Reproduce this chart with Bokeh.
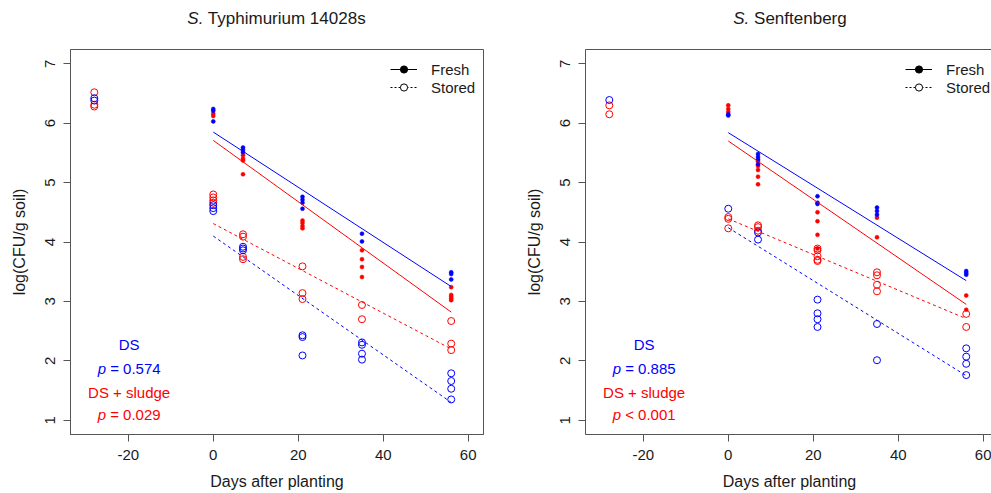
import math
from bokeh.plotting import figure
from bokeh.models import Range1d, FixedTicker, LinearAxis, Legend, LegendItem, Div
from bokeh.layouts import row, column
from bokeh.core.properties import value
from bokeh.embed import file_html
from bokeh.resources import INLINE

# ---------------- data ----------------
x_ticks = [-20, 0, 20, 40, 60]
x_tick_labels = ["-20", "0", "20", "40", "60"]
y_ticks = [1, 2, 3, 4, 5, 6, 7]
y_tick_labels = ["1", "2", "3", "4", "5", "6", "7"]

panel_titles = [("S.", "Typhimurium 14028s"), ("S.", "Senftenberg")]
legend_labels = ["Fresh", "Stored"]
group_names = ["DS", "DS + sludge"]
ty_pvalues = [("p", "= 0.574"), ("p", "= 0.029")]
sen_pvalues = [("p", "= 0.885"), ("p", "< 0.001")]

fit_days = [0, 56]

# S. Typhimurium 14028s
ty_ds_fresh_day = [0, 0, 0, 7, 7, 7, 21, 21, 21, 21, 35, 35, 56, 56, 56]
ty_ds_fresh_val = [6.24, 6.21, 6.03, 5.59, 5.55, 5.51, 4.76, 4.71, 4.66, 4.56, 4.14, 4.01, 3.49, 3.46, 3.37]
ty_sl_fresh_day = [0, 0, 7, 7, 7, 7, 21, 21, 21, 21, 35, 35, 35, 35, 56, 56, 56, 56, 56]
ty_sl_fresh_val = [6.16, 6.12, 5.46, 5.40, 5.37, 5.14, 4.36, 4.32, 4.27, 4.23, 3.86, 3.71, 3.58, 3.41, 3.24, 3.11, 3.08, 3.05, 3.02]
ty_ds_stored_day = [-28, -28, 0, 0, 0, 7, 7, 7, 21, 21, 21, 35, 35, 35, 35, 56, 56, 56, 56]
ty_ds_stored_val = [6.42, 6.38, 4.62, 4.57, 4.52, 3.92, 3.89, 3.86, 2.43, 2.40, 2.09, 2.31, 2.27, 2.12, 2.02, 1.79, 1.66, 1.53, 1.35]
ty_sl_stored_day = [-28, -28, -28, 0, 0, 0, 0, 7, 7, 7, 7, 21, 21, 21, 35, 35, 56, 56, 56]
ty_sl_stored_val = [6.52, 6.31, 6.28, 4.80, 4.75, 4.70, 4.66, 4.13, 4.09, 3.75, 3.71, 3.59, 3.14, 3.04, 2.94, 2.70, 2.67, 2.29, 2.18]
ty_ds_fresh_fit = [5.85, 3.25]
ty_sl_fresh_fit = [5.71, 2.82]
ty_ds_stored_fit = [4.10, 1.30]
ty_sl_stored_fit = [4.31, 2.20]

# S. Senftenberg
sen_ds_fresh_day = [0, 0, 7, 7, 7, 7, 21, 21, 21, 35, 35, 35, 56, 56, 56]
sen_ds_fresh_val = [6.15, 6.13, 5.48, 5.43, 5.39, 5.31, 4.77, 4.66, 4.64, 4.58, 4.52, 4.46, 3.51, 3.48, 3.45]
sen_sl_fresh_day = [0, 0, 0, 7, 7, 7, 7, 7, 21, 21, 21, 21, 35, 35, 56, 56]
sen_sl_fresh_val = [6.30, 6.24, 6.19, 5.36, 5.28, 5.21, 5.10, 4.97, 4.50, 4.35, 4.12, 3.89, 4.41, 4.08, 3.10, 2.86]
sen_ds_stored_day = [-28, 0, 7, 7, 21, 21, 21, 21, 35, 35, 56, 56, 56, 56]
sen_ds_stored_val = [6.39, 4.56, 4.16, 4.04, 3.03, 2.80, 2.70, 2.57, 2.62, 2.01, 2.21, 2.07, 1.95, 1.76]
sen_sl_stored_day = [-28, -28, 0, 0, 0, 7, 7, 7, 21, 21, 21, 21, 21, 35, 35, 35, 35, 56, 56]
sen_sl_stored_val = [6.30, 6.15, 4.42, 4.39, 4.23, 4.28, 4.25, 4.19, 3.89, 3.86, 3.76, 3.70, 3.68, 3.49, 3.44, 3.28, 3.17, 2.79, 2.57]
sen_ds_fresh_fit = [5.84, 3.35]
sen_sl_fresh_fit = [5.70, 2.95]
sen_ds_stored_fit = [4.24, 1.75]
sen_sl_stored_fit = [4.39, 2.71]

# ---------------- styling ----------------
FONT = "Liberation Sans"
BLUE = "#0000FF"
RED = "#FF0000"
AX = "#555555"
TXT = "#1a1a1a"
DASH = "3 3"
NAN = float("nan")

X0, Y0, Y1 = -33.6, 0.76, 7.24
TITLE_H = 29
FRAME_H = 385
LABEL_SHIFT = 0.07   # lifts the rotated y tick labels so they sit centred on their ticks


def base_axis_style(ax):
    ax.axis_line_color = AX
    ax.major_tick_line_color = AX
    ax.minor_tick_line_color = None
    ax.major_tick_in = 0
    ax.major_tick_out = 7
    ax.major_label_text_font = FONT
    ax.major_label_text_font_size = "15px"
    ax.major_label_text_color = TXT
    ax.axis_label_text_font = FONT
    ax.axis_label_text_font_size = "16px"
    ax.axis_label_text_font_style = "normal"
    ax.axis_label_text_color = TXT


def make_title(title, width, frame_left, frame_w):
    html = ('<div style="width:%dpx;margin-left:%dpx;text-align:center;'
            'font-family:\'Liberation Sans\';font-size:17px;line-height:20px;'
            'padding-top:9px;color:%s;white-space:nowrap">'
            '<i>%s</i> %s</div>') % (frame_w, frame_left, TXT, title[0], title[1])
    return Div(text=html, width=width, height=TITLE_H, margin=(0, 0, 0, 0))


def make_panel(series, pvals, frame_w, b_left, b_right, x_end, outline):
    p = figure(frame_width=frame_w, frame_height=FRAME_H,
               x_range=Range1d(X0, x_end), y_range=Range1d(Y0, Y1),
               output_backend="svg", toolbar_location=None,
               min_border_left=b_left, min_border_right=b_right,
               min_border_top=20, min_border_bottom=40,
               x_axis_label="Days after planting",
               margin=(0, 0, 0, 0))
    p.grid.visible = False
    p.background_fill_color = "white"
    p.border_fill_color = "white"

    # x axis
    xa = p.below[0]
    base_axis_style(xa)
    xa.ticker = FixedTicker(ticks=x_ticks)
    xa.major_label_overrides = dict(zip(x_ticks, x_tick_labels))
    xa.major_label_standoff = 8
    xa.axis_label_standoff = 10

    # y axis: tick marks on the inner axis (no labels drawn),
    # rotated labels + title on the outer axis
    ya = p.left[0]
    base_axis_style(ya)
    ya.ticker = FixedTicker(ticks=y_ticks)
    ya.major_label_text_font_size = "0px"
    ya.major_label_text_color = None
    ya.major_label_standoff = 0
    label_pos = [round(t + LABEL_SHIFT, 3) for t in y_ticks]
    yb = LinearAxis(ticker=FixedTicker(ticks=label_pos),
                    major_label_overrides=dict(zip(label_pos, y_tick_labels)),
                    axis_label="log(CFU/g soil)")
    base_axis_style(yb)
    yb.axis_line_color = None
    yb.major_tick_line_color = None
    yb.major_tick_out = 0
    yb.major_label_orientation = math.pi / 2
    yb.major_label_standoff = 13
    yb.axis_label_standoff = 10
    p.add_layout(yb, "left")

    if outline:
        p.outline_line_color = AX
        p.outline_line_width = 1
    else:
        p.outline_line_color = None
        top = LinearAxis(ticker=FixedTicker(ticks=[]), axis_line_color=AX,
                         major_tick_line_color=None, minor_tick_line_color=None,
                         major_label_text_color=None)
        p.add_layout(top, "above")

    (dsf_d, dsf_v, slf_d, slf_v, dss_d, dss_v, sls_d, sls_v,
     dsf_fit, slf_fit, dss_fit, sls_fit) = series

    # points
    p.scatter(sls_d, sls_v, marker="circle", size=7, fill_color=None, line_color=RED, line_width=1)
    p.scatter(dss_d, dss_v, marker="circle", size=7, fill_color=None, line_color=BLUE, line_width=1)
    p.scatter(slf_d, slf_v, marker="circle", size=4, fill_color=RED, line_color=RED, line_width=0.5)
    p.scatter(dsf_d, dsf_v, marker="circle", size=4, fill_color=BLUE, line_color=BLUE, line_width=0.5)

    # regression lines
    p.line(fit_days, dsf_fit, line_color=BLUE, line_width=1)
    p.line(fit_days, slf_fit, line_color=RED, line_width=1)
    p.line(fit_days, dss_fit, line_color=BLUE, line_width=1, line_dash=DASH)
    p.line(fit_days, sls_fit, line_color=RED, line_width=1, line_dash=DASH)

    # legend (black keys, renderers carry no visible data)
    lf = p.line(x=[NAN], y=[NAN], line_color="black", line_width=1)
    sf = p.scatter(x=[NAN], y=[NAN], marker="circle", size=4, fill_color="black", line_color="black")
    ls = p.line(x=[NAN], y=[NAN], line_color="black", line_width=1, line_dash="2 2")
    ss = p.scatter(x=[NAN], y=[NAN], marker="circle", size=7, fill_color="white", line_color="black")
    leg = Legend(items=[LegendItem(label=legend_labels[0], renderers=[lf, sf]),
                        LegendItem(label=legend_labels[1], renderers=[ls, ss])],
                 location=(320, 338), orientation="vertical",
                 glyph_width=27, glyph_height=18, label_height=18, label_standoff=14,
                 spacing=0, padding=0, margin=0,
                 border_line_color=None, background_fill_alpha=0,
                 label_text_font=FONT, label_text_font_size="15px", label_text_color=TXT)
    p.add_layout(leg, "center")

    # group annotations
    xc = -19.8
    p.text(x=[xc], y=[2.27], text=[group_names[0]], text_font=value(FONT), text_font_size="15px",
           text_color=BLUE, text_align="center", text_baseline="middle")
    p.text(x=[xc], y=[1.87], text=[pvals[0][0]], text_font=value(FONT), text_font_size="15px",
           text_font_style="italic", text_color=BLUE, text_align="right", text_baseline="middle", x_offset=-23)
    p.text(x=[xc], y=[1.87], text=[pvals[0][1]], text_font=value(FONT), text_font_size="15px",
           text_color=BLUE, text_align="left", text_baseline="middle", x_offset=-19)
    p.text(x=[xc], y=[1.46], text=[group_names[1]], text_font=value(FONT), text_font_size="15px",
           text_color=RED, text_align="center", text_baseline="middle")
    p.text(x=[xc], y=[1.10], text=[pvals[1][0]], text_font=value(FONT), text_font_size="15px",
           text_font_style="italic", text_color=RED, text_align="right", text_baseline="middle", x_offset=-23)
    p.text(x=[xc], y=[1.10], text=[pvals[1][1]], text_font=value(FONT), text_font_size="15px",
           text_color=RED, text_align="left", text_baseline="middle", x_offset=-19)
    return p


ty_series = (ty_ds_fresh_day, ty_ds_fresh_val, ty_sl_fresh_day, ty_sl_fresh_val,
             ty_ds_stored_day, ty_ds_stored_val, ty_sl_stored_day, ty_sl_stored_val,
             ty_ds_fresh_fit, ty_sl_fresh_fit, ty_ds_stored_fit, ty_sl_stored_fit)
sen_series = (sen_ds_fresh_day, sen_ds_fresh_val, sen_sl_fresh_day, sen_sl_fresh_val,
              sen_ds_stored_day, sen_ds_stored_val, sen_sl_stored_day, sen_sl_stored_val,
              sen_ds_fresh_fit, sen_sl_fresh_fit, sen_ds_stored_fit, sen_sl_stored_fit)

# left: 70 + 413 + 39 = 522 ; right: 61 + 408 + 0 = 469  -> 991 total
p1 = make_panel(ty_series, ty_pvalues, frame_w=413, b_left=70, b_right=39, x_end=63.6, outline=True)
p2 = make_panel(sen_series, sen_pvalues, frame_w=408, b_left=61, b_right=0, x_end=62.42, outline=False)
t1 = make_title(panel_titles[0], 522, 70, 413)
t2 = make_title(panel_titles[1], 469, 61, 414)

layout = column(row(t1, t2, spacing=0), row(p1, p2, spacing=0), spacing=0)
open("out.html", "w").write(file_html(layout, INLINE))
